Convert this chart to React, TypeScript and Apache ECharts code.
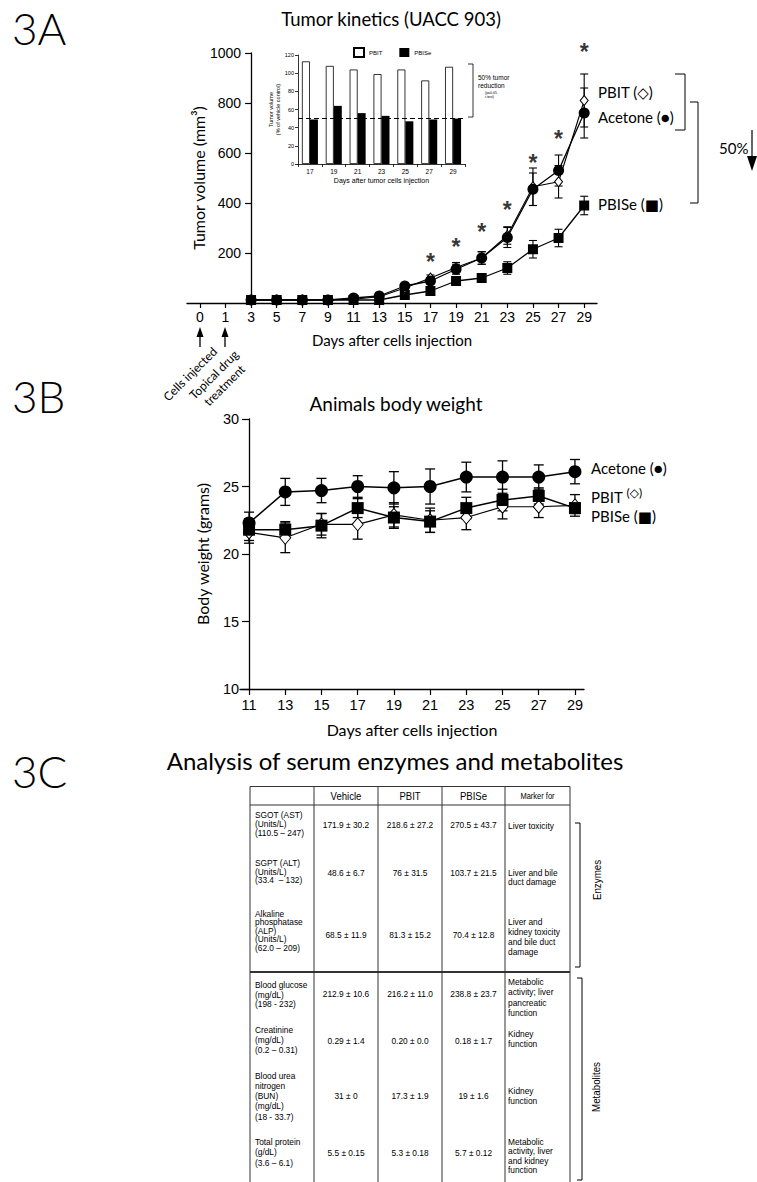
import React, { useEffect, useRef } from 'react';
import * as echarts from 'echarts';

// ---------- 3A: tumor kinetics ----------
const axisDays3A = [0, 1, 3, 5, 7, 9, 11, 13, 15, 17, 19, 21, 23, 25, 27, 29];
const measuredDays3A = [3, 5, 7, 9, 11, 13, 15, 17, 19, 21, 23, 25, 27, 29];
const acetone3A = [12, 12, 12, 12, 20, 28, 68, 88, 135, 180, 262, 455, 530, 760];
const acetoneErr3A = [0, 0, 0, 0, 3, 5, 8, 10, 20, 25, 40, 65, 62, 100];
const pbit3A = [12, 12, 12, 12, 15, 25, 60, 100, 142, 180, 270, 465, 485, 810];
const pbitErr3A = [0, 0, 0, 0, 3, 5, 8, 12, 20, 25, 35, 75, 65, 106];
const pbise3A = [12, 12, 12, 12, 12, 12, 32, 48, 88, 100, 140, 215, 260, 390];
const pbiseErr3A = [0, 0, 0, 0, 0, 0, 8, 10, 15, 12, 25, 35, 35, 37];
const starDays3A = [17, 19, 21, 23, 25, 27, 29];
const starLevels3A = [190, 250, 310, 395, 585, 680, 1030];
const yMin3A = 0, yMax3A = 1000, yStep3A = 200;

// ---------- 3A inset: % of vehicle control ----------
const insetDays = ['17', '19', '21', '23', '25', '27', '29'];
const insetPBIT = [113, 108, 104, 99, 104, 92, 107];
const insetPBISe = [49, 64, 56, 53, 47, 49, 50];
const insetThreshold = 50;
const yMinInset = 0, yMaxInset = 120, yStepInset = 20;

// ---------- 3B: body weight ----------
const axisDays3B = [11, 12, 13, 14, 15, 16, 17, 18, 19, 20, 21, 22, 23, 24, 25, 26, 27, 28, 29];
const days3B = [11, 13, 15, 17, 19, 21, 23, 25, 27, 29];
const acetone3B = [22.3, 24.6, 24.7, 25.0, 24.9, 25.0, 25.7, 25.7, 25.7, 26.1];
const acetoneErr3B = [0.8, 1.0, 0.9, 0.8, 1.2, 1.3, 1.1, 1.2, 0.9, 0.9];
const pbit3B = [21.6, 21.2, 22.2, 22.2, 22.9, 22.5, 22.7, 23.5, 23.5, 23.6];
const pbitErr3B = [0.8, 1.1, 0.8, 1.1, 0.9, 0.9, 0.9, 0.9, 0.8, 0.8];
const pbise3B = [21.8, 21.8, 22.1, 23.4, 22.7, 22.4, 23.4, 24.0, 24.3, 23.4];
const pbiseErr3B = [0.8, 0.6, 0.9, 0.7, 0.8, 0.8, 0.8, 0.8, 0.6, 0.4];
const yMin3B = 10, yMax3B = 30, yStep3B = 5;

// ---------- 3C: serum table ----------
const tableHeaders = ['', 'Vehicle', 'PBIT', 'PBISe', 'Marker for'];
const tableParams = [
  ['SGOT (AST)', '(Units/L)', '(110.5 – 247)'],
  ['SGPT (ALT)', '(Units/L)', '(33.4  – 132)'],
  ['Alkaline', 'phosphatase', '(ALP)', '(Units/L)', '(62.0 – 209)'],
  ['Blood glucose', '(mg/dL)', '(198 - 232)'],
  ['Creatinine', '(mg/dL)', '(0.2 – 0.31)'],
  ['Blood urea', 'nitrogen', '(BUN)', '(mg/dL)', '(18 - 33.7)'],
  ['Total protein', '(g/dL)', '(3.6 – 6.1)'],
];
const tableVehicle = ['171.9 ± 30.2', '48.6 ± 6.7', '68.5 ± 11.9', '212.9 ± 10.6', '0.29 ± 1.4', '31 ± 0', '5.5 ± 0.15'];
const tablePBIT = ['218.6 ± 27.2', '76 ± 31.5', '81.3 ± 15.2', '216.2 ± 11.0', '0.20 ± 0.0', '17.3 ± 1.9', '5.3 ± 0.18'];
const tablePBISe = ['270.5 ± 43.7', '103.7 ± 21.5', '70.4 ± 12.8', '238.8 ± 23.7', '0.18 ± 1.7', '19 ± 1.6', '5.7 ± 0.12'];
const tableMarker = [
  ['Liver toxicity'],
  ['Liver and bile', 'duct damage'],
  ['Liver and', 'kidney toxicity', 'and bile duct', 'damage'],
  ['Metabolic', 'activity; liver', 'pancreatic', 'function'],
  ['Kidney', 'function'],
  ['Kidney', 'function'],
  ['Metabolic', 'activity, liver', 'and kidney', 'function'],
];

// layout of the table rows (first-line centre, line height)
const rowLayout = [
  { p: 815, plh: 8.9, v: 825, m: 826, mlh: 9 },
  { p: 863, plh: 8.6, v: 873, m: 873, mlh: 8.6 },
  { p: 913.5, plh: 8.5, v: 935, m: 922, mlh: 10 },
  { p: 985, plh: 9.5, v: 994, m: 982, mlh: 10.2 },
  { p: 1030, plh: 10, v: 1041, m: 1034, mlh: 10 },
  { p: 1076, plh: 10.1, v: 1096, m: 1091, mlh: 10 },
  { p: 1141.5, plh: 10.5, v: 1153, m: 1141.5, mlh: 9.6 },
];
const colX = [250, 314, 378, 442, 505, 570];

const FONT_SANS = 'Lato, "Open Sans", "DejaVu Sans", sans-serif';
const FONT_HELV = '"Liberation Sans", Arial, sans-serif';
const TABLE_SCALE_X = 0.87;

function errorBars(xAxisIndex: number, yAxisIndex: number, xs: number[], ys: number[], es: number[], cap: number, lw: number) {
  return {
    type: 'custom',
    xAxisIndex,
    yAxisIndex,
    silent: true,
    clip: false,
    z: 2,
    data: xs.map((x, i) => [x, ys[i], es[i]]),
    encode: { x: 0, y: 1 },
    renderItem: (_params: any, api: any) => {
      const x = api.value(0);
      const y = api.value(1);
      const e = api.value(2);
      if (!e) return { type: 'group', children: [] };
      const t = api.coord([x, y + e]);
      const b = api.coord([x, y - e]);
      const st = { stroke: '#000', lineWidth: lw };
      return {
        type: 'group',
        children: [
          { type: 'line', shape: { x1: t[0], y1: t[1], x2: b[0], y2: b[1] }, style: st },
          { type: 'line', shape: { x1: t[0] - cap, y1: t[1], x2: t[0] + cap, y2: t[1] }, style: st },
          { type: 'line', shape: { x1: b[0] - cap, y1: b[1], x2: b[0] + cap, y2: b[1] }, style: st },
        ],
      };
    },
  };
}

function lineSeries(name: string, xAxisIndex: number, yAxisIndex: number, data: number[][], symbol: string, size: any, fill: string, lw: number, z: number) {
  return {
    type: 'line',
    name,
    xAxisIndex,
    yAxisIndex,
    data,
    symbol,
    symbolSize: size,
    showSymbol: true,
    showAllSymbol: true,
    clip: false,
    silent: true,
    z,
    itemStyle: { color: fill, borderColor: '#000', borderWidth: fill === '#fff' ? 1 : 0 },
    lineStyle: { color: '#000', width: lw },
    emphasis: { disabled: true },
  };
}

function txt(text: string, x: number, y: number, o: any = {}) {
  return {
    type: 'text',
    x,
    y,
    rotation: o.rotation || 0,
    scaleX: o.scaleX || 1,
    silent: true,
    z: 10,
    style: {
      text,
      fill: '#000',
      fontSize: o.fontSize || 12,
      fontFamily: o.fontFamily || FONT_SANS,
      fontWeight: o.fontWeight || 'normal',
      align: o.align || 'left',
      verticalAlign: o.verticalAlign || 'middle',
      lineHeight: o.lineHeight,
      rich: o.rich,
    },
  };
}

function poly(points: number[][], lw = 1, stroke = '#000') {
  return { type: 'polyline', silent: true, z: 10, shape: { points }, style: { stroke, lineWidth: lw, fill: 'none' } };
}

function seg(x1: number, y1: number, x2: number, y2: number, lw = 1, stroke = '#333') {
  return { type: 'line', silent: true, z: 10, shape: { x1, y1, x2, y2 }, style: { stroke, lineWidth: lw } };
}

// grid geometry
const G3A = { left: 187, top: 53, width: 410, height: 250 };
const band3A = G3A.width / axisDays3A.length;
const plot3ALeft = G3A.left + (axisDays3A.indexOf(3) + 0.5) * band3A;
const plot3AMax = axisDays3A.length - 0.5 - axisDays3A.indexOf(3);
const G3B = { left: 240, top: 419, width: 344, height: 270 };
const band3B = G3B.width / axisDays3B.length;
const plot3BLeft = G3B.left + 0.5 * band3B;
const plot3BMax = axisDays3B.length - 0.5;

function buildOption() {
  const x3A = (d: number) => axisDays3A.indexOf(d) - axisDays3A.indexOf(3);
  const x3B = (d: number) => axisDays3B.indexOf(d);
  const pts = (days: number[], vals: number[], f: (d: number) => number) => days.map((d, i) => [f(d), vals[i]]);
  const xs3A = measuredDays3A.map(x3A);
  const xs3B = days3B.map(x3B);

  const axisLine = { show: true, onZero: false, lineStyle: { color: '#000', width: 1.3 } };
  const axisTick = (len: number) => ({ show: true, length: len, lineStyle: { color: '#000', width: 1.2 } });

  // ---------- graphic decorations ----------
  const g: any[] = [];
  g.push(txt('3A', 12, 28, { fontSize: 44, fontWeight: 300 }));
  g.push(txt('3B', 12, 396, { fontSize: 44, fontWeight: 300 }));
  g.push(txt('3C', 12, 771, { fontSize: 44, fontWeight: 300 }));
  g.push(txt('Tumor kinetics (UACC 903)', 391, 19, { fontSize: 18.5, align: 'center' }));
  g.push(txt('Animals body weight', 396, 403, { fontSize: 19, align: 'center' }));
  g.push(txt('Analysis of serum enzymes and metabolites', 395, 760, { fontSize: 24, align: 'center' }));

  // 3A right labels & brackets
  g.push(txt('PBIT (◇)', 598, 92, { fontSize: 15 }));
  g.push(txt('Acetone (●)', 598, 117, { fontSize: 15 }));
  g.push(txt('PBISe (■)', 598, 204, { fontSize: 15 }));
  g.push(poly([[675, 74], [685, 74], [685, 130], [675, 130]]));
  g.push(poly([[690, 102], [698, 102], [698, 203], [690, 203]]));
  g.push(txt('50%', 719, 148, { fontSize: 15 }));
  g.push(seg(752, 130, 752, 160, 1.2, '#000'));
  g.push({ type: 'polygon', silent: true, z: 10, shape: { points: [[747, 156], [757, 156], [752, 171]] }, style: { fill: '#000' } });

  // 3A injection / treatment arrows
  [200, 225].forEach((ax) => {
    g.push(seg(ax, 334, ax, 347, 1.3, '#000'));
    g.push({ type: 'polygon', silent: true, z: 10, shape: { points: [[ax - 3.5, 337], [ax + 3.5, 337], [ax, 327]] }, style: { fill: '#000' } });
  });
  g.push(txt('Cells injected', 190, 374, { fontSize: 12, align: 'center', rotation: Math.PI / 4 }));
  g.push(txt('Topical drug\ntreatment', 219, 380, { fontSize: 12, align: 'center', rotation: Math.PI / 4, lineHeight: 15 }));

  // inset annotations
  g.push(poly([[468, 64], [473, 64], [473, 117], [468, 117]], 0.8));
  g.push(txt('50% tumor\nreduction', 478, 81, { fontSize: 6.5, fontFamily: FONT_HELV, lineHeight: 8 }));
  g.push(txt('(p≤0.05\nt-test)', 485, 95, { fontSize: 3.5, fontFamily: FONT_HELV, lineHeight: 4.5 }));

  // 3B right labels
  g.push(txt('Acetone (●)', 591, 468, { fontSize: 15 }));
  g.push(txt('PBIT {s|(◇)}', 591, 497, { fontSize: 15, rich: { s: { fontSize: 12, fontFamily: FONT_SANS, verticalAlign: 'top', lineHeight: 22 } } }));
  g.push(txt('PBISe (■)', 591, 516, { fontSize: 15 }));

  // 3C table lines
  const tTop = 786.5, tHead = 805, tSec = 972, tBot = 1182;
  g.push(seg(colX[0], tTop, colX[5], tTop));
  g.push(seg(colX[0], tHead, colX[5], tHead));
  g.push(seg(colX[0], tSec, colX[5], tSec, 1.8));
  colX.forEach((cx) => g.push(seg(cx, tTop, cx, tBot)));
  const tOpt = (extra: any) => ({ fontFamily: FONT_HELV, fontSize: 9.6, scaleX: TABLE_SCALE_X, ...extra });
  tableHeaders.forEach((h, i) => {
    if (!h) return;
    g.push(txt(h, (colX[i] + colX[i + 1]) / 2, 796, tOpt({ fontSize: i === 4 ? 8.6 : 11, align: 'center' })));
  });
  tableParams.forEach((lines, r) => {
    const L = rowLayout[r];
    g.push(txt(lines.join('\n'), 255, L.p - L.plh / 2, tOpt({ verticalAlign: 'top', lineHeight: L.plh })));
    [tableVehicle, tablePBIT, tablePBISe].forEach((col, c) => {
      g.push(txt(col[r], (colX[c + 1] + colX[c + 2]) / 2, L.v, tOpt({ align: 'center' })));
    });
    g.push(txt(tableMarker[r].join('\n'), 508, L.m - L.mlh / 2, tOpt({ verticalAlign: 'top', lineHeight: L.mlh })));
  });
  // section brackets
  g.push(poly([[575, 823], [580, 823], [580, 967], [575, 967]]));
  g.push(txt('Enzymes', 597, 880, { fontSize: 11.5, fontFamily: FONT_HELV, align: 'center', rotation: Math.PI / 2, scaleX: 0.85 }));
  g.push(poly([[577, 978], [582, 978], [582, 1180], [577, 1180]]));
  g.push(txt('Metabolites', 596, 1087, { fontSize: 11.5, fontFamily: FONT_HELV, align: 'center', rotation: Math.PI / 2, scaleX: 0.85 }));

  return {
    animation: false,
    backgroundColor: '#fff',
    textStyle: { fontFamily: FONT_HELV, color: '#000' },
    grid: [
      { ...G3A },
      { left: plot3ALeft, top: G3A.top, width: plot3AMax * band3A, height: G3A.height },
      { left: 298, top: 55, width: 167, height: 109 },
      { ...G3B },
      { left: plot3BLeft, top: G3B.top, width: plot3BMax * band3B, height: G3B.height },
    ],
    legend: {
      data: ['PBIT', 'PBISe'],
      left: 348,
      top: 42,
      itemWidth: 10,
      itemHeight: 9,
      itemGap: 17,
      icon: 'rect',
      selectedMode: false,
      textStyle: { fontSize: 6, fontFamily: FONT_HELV, color: '#000' },
    },
    xAxis: [
      {
        type: 'category', gridIndex: 0, data: axisDays3A.map(String), boundaryGap: true,
        axisLine, axisTick: { ...axisTick(5), alignWithLabel: true },
        axisLabel: { color: '#000', fontSize: 14, margin: 7, interval: 0, fontFamily: FONT_HELV },
        splitLine: { show: false },
        name: 'Days after cells injection', nameLocation: 'middle', nameGap: 29,
        nameTextStyle: { fontSize: 15, color: '#000', fontFamily: FONT_SANS },
      },
      { type: 'value', gridIndex: 1, min: 0, max: plot3AMax, show: false },
      {
        type: 'category', gridIndex: 2, data: insetDays, boundaryGap: true,
        axisLine: { show: true, lineStyle: { color: '#000', width: 0.8 } },
        axisTick: { show: true, length: 3, lineStyle: { color: '#000', width: 0.8 } },
        axisLabel: { color: '#000', fontSize: 6.5, margin: 4, fontFamily: FONT_HELV },
        name: 'Days after tumor cells injection', nameLocation: 'middle', nameGap: 13,
        nameTextStyle: { fontSize: 7, color: '#000', fontFamily: FONT_HELV },
      },
      {
        type: 'category', gridIndex: 3, data: axisDays3B.map(String), boundaryGap: true,
        axisLine, axisTick: { ...axisTick(6), alignWithLabel: true, interval: 1 },
        axisLabel: { color: '#000', fontSize: 14.5, margin: 8, interval: 1, fontFamily: FONT_HELV },
        name: 'Days after cells injection', nameLocation: 'middle', nameGap: 32,
        nameTextStyle: { fontSize: 16, color: '#000', fontFamily: FONT_SANS },
      },
      { type: 'value', gridIndex: 4, min: 0, max: plot3BMax, show: false },
    ],
    yAxis: [
      { type: 'value', gridIndex: 0, min: yMin3A, max: yMax3A, show: false },
      {
        type: 'value', gridIndex: 1, min: yMin3A, max: yMax3A, interval: yStep3A,
        axisLine, axisTick: axisTick(6),
        axisLabel: { color: '#000', fontSize: 14, margin: 10, fontFamily: FONT_HELV, formatter: (v: number) => (v === 0 ? '' : String(v)) },
        splitLine: { show: false },
        name: 'Tumor volume (mm³)', nameLocation: 'middle', nameGap: 43,
        nameTextStyle: { fontSize: 16, color: '#000', fontFamily: FONT_SANS },
      },
      {
        type: 'value', gridIndex: 2, min: yMinInset, max: yMaxInset, interval: yStepInset,
        axisLine: { show: true, lineStyle: { color: '#000', width: 0.8 } },
        axisTick: { show: true, length: 3, lineStyle: { color: '#000', width: 0.8 } },
        axisLabel: { color: '#000', fontSize: 5.5, margin: 4, fontFamily: FONT_HELV },
        splitLine: { show: false },
        name: 'Tumor volume\n(% of vehicle control)', nameLocation: 'middle', nameGap: 9,
        nameTextStyle: { fontSize: 5.5, lineHeight: 6.5, color: '#000', fontFamily: FONT_HELV },
      },
      { type: 'value', gridIndex: 3, min: yMin3B, max: yMax3B, show: false },
      {
        type: 'value', gridIndex: 4, min: yMin3B, max: yMax3B, interval: yStep3B,
        axisLine, axisTick: axisTick(7),
        axisLabel: { color: '#000', fontSize: 14.5, margin: 10, fontFamily: FONT_HELV },
        splitLine: { show: false },
        name: 'Body weight (grams)', nameLocation: 'middle', nameGap: 39,
        nameTextStyle: { fontSize: 16, color: '#000', fontFamily: FONT_SANS },
      },
    ],
    series: [
      // 3A
      errorBars(1, 1, xs3A, pbise3A, pbiseErr3A, 4, 1.1),
      errorBars(1, 1, xs3A, pbit3A, pbitErr3A, 4, 1.1),
      errorBars(1, 1, xs3A, acetone3A, acetoneErr3A, 4, 1.1),
      lineSeries('PBISe 3A', 1, 1, pts(measuredDays3A, pbise3A, x3A), 'rect', 10, '#000', 1.3, 5),
      lineSeries('PBIT 3A', 1, 1, pts(measuredDays3A, pbit3A, x3A), 'diamond', [8, 10], '#fff', 1.1, 6),
      lineSeries('Acetone 3A', 1, 1, pts(measuredDays3A, acetone3A, x3A), 'circle', 11, '#000', 1.3, 7),
      {
        type: 'scatter', name: 'stars', xAxisIndex: 1, yAxisIndex: 1, silent: true, clip: false, z: 8,
        data: pts(starDays3A, starLevels3A, x3A),
        symbolSize: 1, itemStyle: { color: 'rgba(0,0,0,0)' },
        label: { show: true, formatter: '*', position: 'inside', fontSize: 23, fontWeight: 'bold', color: '#000', fontFamily: FONT_HELV, offset: [0, 6] },
      },
      // inset
      {
        type: 'bar', name: 'PBIT', xAxisIndex: 2, yAxisIndex: 2, data: insetPBIT, barWidth: 8, barGap: '0%', silent: true,
        itemStyle: { color: '#fff', borderColor: '#000', borderWidth: 0.8 },
      },
      {
        type: 'bar', name: 'PBISe', xAxisIndex: 2, yAxisIndex: 2, data: insetPBISe, barWidth: 8, barGap: '0%', silent: true,
        itemStyle: { color: '#000' },
        markLine: {
          silent: true, symbol: 'none', label: { show: false },
          lineStyle: { color: '#000', width: 1, type: [5, 3] },
          data: [{ yAxis: insetThreshold }],
        },
      },
      // 3B
      errorBars(4, 4, xs3B, pbit3B, pbitErr3B, 5, 1.3),
      errorBars(4, 4, xs3B, pbise3B, pbiseErr3B, 5, 1.3),
      errorBars(4, 4, xs3B, acetone3B, acetoneErr3B, 5, 1.3),
      lineSeries('PBIT 3B', 4, 4, pts(days3B, pbit3B, x3B), 'diamond', [11, 13], '#fff', 1.2, 5),
      lineSeries('PBISe 3B', 4, 4, pts(days3B, pbise3B, x3B), 'rect', 12, '#000', 1.5, 6),
      lineSeries('Acetone 3B', 4, 4, pts(days3B, acetone3B, x3B), 'circle', 13, '#000', 1.5, 7),
    ],
    graphic: { elements: g },
  };
}

export default function App() {
  const ref = useRef<HTMLDivElement>(null);
  useEffect(() => {
    const chart = echarts.init(ref.current as HTMLDivElement, null, { renderer: 'svg' });
    chart.setOption(buildOption() as any);
    return () => chart.dispose();
  }, []);
  return <div ref={ref} style={{ position: 'absolute', left: 0, top: 0, width: 757, height: 1182, background: '#fff' }} />;
}
